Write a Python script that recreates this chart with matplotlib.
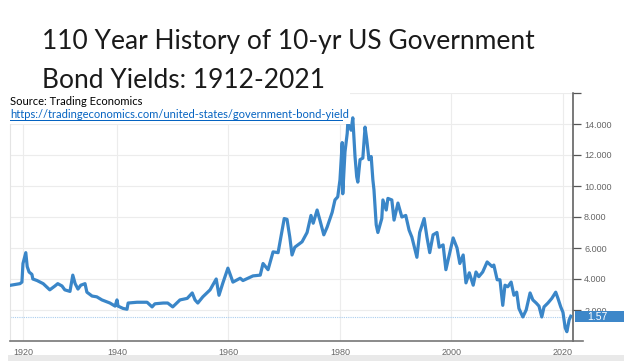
"""10-yr US government bond yields, 1912-2021 (Trading Economics style chart)."""

import matplotlib

matplotlib.use("Agg")
import matplotlib.pyplot as plt
import numpy as np
from matplotlib.patches import Rectangle

# Yield history (year, percent).
years = [
    1912.0, 1918.0, 1919.3, 1920.0, 1920.6, 1920.9, 1921.3, 1921.9, 1922.1, 1923.0,
    1924.3, 1925.7, 1926.8, 1927.4, 1928.3, 1928.9, 1930.0, 1930.6, 1931.1, 1931.7,
    1932.3, 1933.2, 1933.6, 1934.7, 1935.7, 1936.8, 1938.5, 1939.6, 1940.0, 1940.2,
    1941.1, 1941.8, 1942.0, 1943.6, 1945.4, 1946.3, 1946.8, 1948.3, 1949.1, 1950.0,
    1951.3, 1952.6, 1953.5, 1954.0, 1954.5, 1955.4, 1956.7, 1957.8, 1958.3, 1959.0,
    1959.9, 1960.8, 1962.1, 1962.6, 1964.4, 1965.7, 1966.2, 1967.1, 1968.0, 1968.9,
    1970.0, 1970.5, 1971.0, 1971.4, 1971.9, 1973.2, 1974.1, 1974.8, 1975.2, 1975.9,
    1976.4, 1977.1, 1977.7, 1978.6, 1979.1, 1979.6, 1980.0, 1980.4, 1980.5, 1980.9,
    1981.3, 1981.4, 1982.0, 1982.3, 1982.7, 1983.0, 1983.2, 1983.6, 1984.1, 1984.5,
    1984.8, 1985.2, 1985.6, 1985.9, 1986.1, 1986.5, 1986.8, 1987.5, 1987.7, 1988.3,
    1988.6, 1989.3, 1989.7, 1990.4, 1991.1, 1991.8, 1992.4, 1992.9, 1993.8, 1994.3,
    1995.1, 1995.6, 1996.1, 1996.7, 1997.4, 1997.8, 1998.5, 1999.0, 1999.6, 2000.3,
    2001.0, 2001.5, 2002.1, 2002.6, 2003.2, 2003.9, 2004.4, 2004.9, 2005.6, 2006.4,
    2007.3, 2007.6, 2008.2, 2008.7, 2009.2, 2009.6, 2010.1, 2010.7, 2011.2, 2011.7,
    2012.1, 2012.8, 2013.4, 2014.1, 2014.6, 2015.2, 2015.7, 2016.2, 2016.6, 2017.3,
    2018.0, 2018.7, 2019.1, 2019.6, 2020.0, 2020.4, 2020.7, 2021.1, 2021.4,
]
yields = [
    3.6, 3.7, 3.8, 5.0, 5.7, 4.8, 4.45, 4.3, 4.0, 3.9,
    3.7, 3.3, 3.55, 3.7, 3.55, 3.3, 3.2, 4.25, 3.7, 3.35,
    3.6, 3.7, 3.15, 2.9, 2.85, 2.65, 2.45, 2.25, 2.65, 2.25,
    2.1, 2.05, 2.45, 2.5, 2.5, 2.2, 2.4, 2.45, 2.45, 2.2,
    2.65, 2.75, 3.1, 2.65, 2.45, 2.85, 3.3, 4.0, 2.95, 3.75,
    4.7, 3.8, 4.05, 3.9, 4.2, 4.25, 5.0, 4.6, 5.75, 5.7,
    7.9, 7.85, 6.7, 5.55, 6.05, 6.4, 7.0, 8.1, 7.6, 8.45,
    7.8, 6.85, 7.35, 8.3, 9.1, 9.3, 10.4, 12.8, 9.5, 12.2,
    13.4, 14.05, 13.6, 14.4, 11.9, 10.6, 10.25, 11.7, 11.8, 13.8,
    13.0, 11.7, 11.9, 10.4, 9.75, 7.5, 7.0, 7.9, 9.1, 8.45,
    9.2, 9.1, 7.8, 8.9, 8.0, 8.1, 7.15, 6.7, 5.4, 7.0,
    7.9, 6.7, 5.7, 6.85, 7.0, 6.05, 6.2, 4.6, 5.55, 6.65,
    6.0, 5.0, 5.55, 3.75, 4.4, 3.6, 4.45, 4.15, 4.45, 5.1,
    4.8, 4.9, 3.95, 3.95, 2.3, 3.6, 3.5, 3.8, 2.95, 3.15,
    2.1, 1.55, 2.0, 3.1, 2.65, 2.45, 2.25, 1.55, 2.2, 2.45,
    2.75, 3.15, 2.75, 2.2, 1.85, 0.85, 0.6, 1.35, 1.6,
]
last_value = 1.57

x_ticks = [1920, 1940, 1960, 1980, 2000, 2020]
y_ticks = [2, 4, 6, 8, 10, 12, 14, 16]

title = "110 Year History of 10-yr US Government\nBond Yields: 1912-2021"
source = "Source: Trading Economics"
url = "https://tradingeconomics.com/united-states/government-bond-yield"

LINE = "#3a86c8"
GREY = "#666666"

# The source chart squeezes the early decades; mimic it with a piecewise axis.
brk_years = np.array([1800.0, 1912.0, 1920.0, 1940.0, 2200.0])
brk_pos = np.array([-156.0, 0.0, 12.0, 106.0, 106.0 + 260 * 5.575])


def forward(v):
    return np.interp(v, brk_years, brk_pos)


def inverse(v):
    return np.interp(v, brk_pos, brk_years)


W, H = 624, 361
fig = plt.figure(figsize=(W / 100, H / 100), dpi=100)
fig.patch.set_facecolor("white")

ax = fig.add_axes([10 / W, 20 / H, 563 / W, 248 / H])
ax.set_xscale("function", functions=(forward, inverse))
ax.plot(years, yields, color=LINE, linewidth=2.3, solid_joinstyle="round", zorder=3)
ax.axhline(last_value, color="#a9cdee", linewidth=0.8, linestyle=(0, (1, 1)), zorder=2)

ax.set_xlim(1911.3, 2021.8)
ax.set_ylim(0, 16)
ax.set_xticks(x_ticks)
ax.set_xticklabels([str(t) for t in x_ticks])
ax.set_yticks(y_ticks)
ax.set_yticklabels([f"{t:.3f}" if t < 16 else "" for t in y_ticks])
ax.yaxis.tick_right()
ax.grid(True, color="#ececec", linewidth=0.8)
ax.set_axisbelow(True)

ax.spines["top"].set_visible(False)
ax.spines["left"].set_color("#e4e4e4")
ax.spines["right"].set_color("#555555")
ax.spines["right"].set_linewidth(1.1)
ax.spines["bottom"].set_color("#777777")
ax.spines["bottom"].set_linewidth(1.2)
ax.plot([1.0, 1.018], [0, 0], transform=ax.transAxes, color="#777777",
        linewidth=1.2, clip_on=False)

ax.tick_params(axis="x", length=0, pad=5, labelsize=6.5, labelcolor=GREY)
ax.tick_params(axis="y", length=6, width=0.9, color="#555555", pad=2,
               labelsize=6.5, labelcolor=GREY)
for lbl in ax.get_xticklabels() + ax.get_yticklabels():
    lbl.set_fontfamily("Liberation Sans")

# Last-value badge on the right axis (it half-hides the 2.000 label, as in the source).
badge_tr = ax.get_yaxis_transform()
ax.add_patch(Rectangle((1.0036, last_value - 0.36), 0.09, 0.72, transform=badge_tr,
                       facecolor="#3d87c9", edgecolor="none", clip_on=False, zorder=6))
ax.text(1.044, last_value, f"{last_value:.2f}", transform=badge_tr, ha="center",
        va="center", color="white", fontsize=7.5, family="Liberation Sans", zorder=7)

# White box behind the source note, as in the pasted slide.
fig.patches.append(Rectangle((0, 1 - 124 / H), 350 / W, 34 / H, transform=fig.transFigure,
                             facecolor="white", edgecolor="none", zorder=1))
# Light grey band at the bottom of the slide.
fig.patches.append(Rectangle((8 / W, 0), 1 - 8 / W, 6 / H, transform=fig.transFigure,
                             facecolor="#e9e9e9", edgecolor="none", zorder=1))

fig.text(42 / W, 1 - 88 / H, title, fontsize=19, family="Lato", fontweight="normal",
         color="#1a1a1a", ha="left", va="baseline", linespacing=1.72, zorder=2)
fig.text(10 / W, 1 - 105 / H, source, fontsize=8, family="Lato", color="black",
         ha="left", va="baseline", zorder=2)
fig.text(10 / W, 1 - 118 / H, url, fontsize=8, family="Lato", color="#0563c1",
         ha="left", va="baseline", zorder=2)
fig.patches.append(Rectangle((10 / W, 1 - 120.5 / H), 333 / W, 0.8 / H,
                             transform=fig.transFigure, facecolor="#0563c1",
                             edgecolor="none", zorder=2))

fig.savefig("out.png", dpi=100)
